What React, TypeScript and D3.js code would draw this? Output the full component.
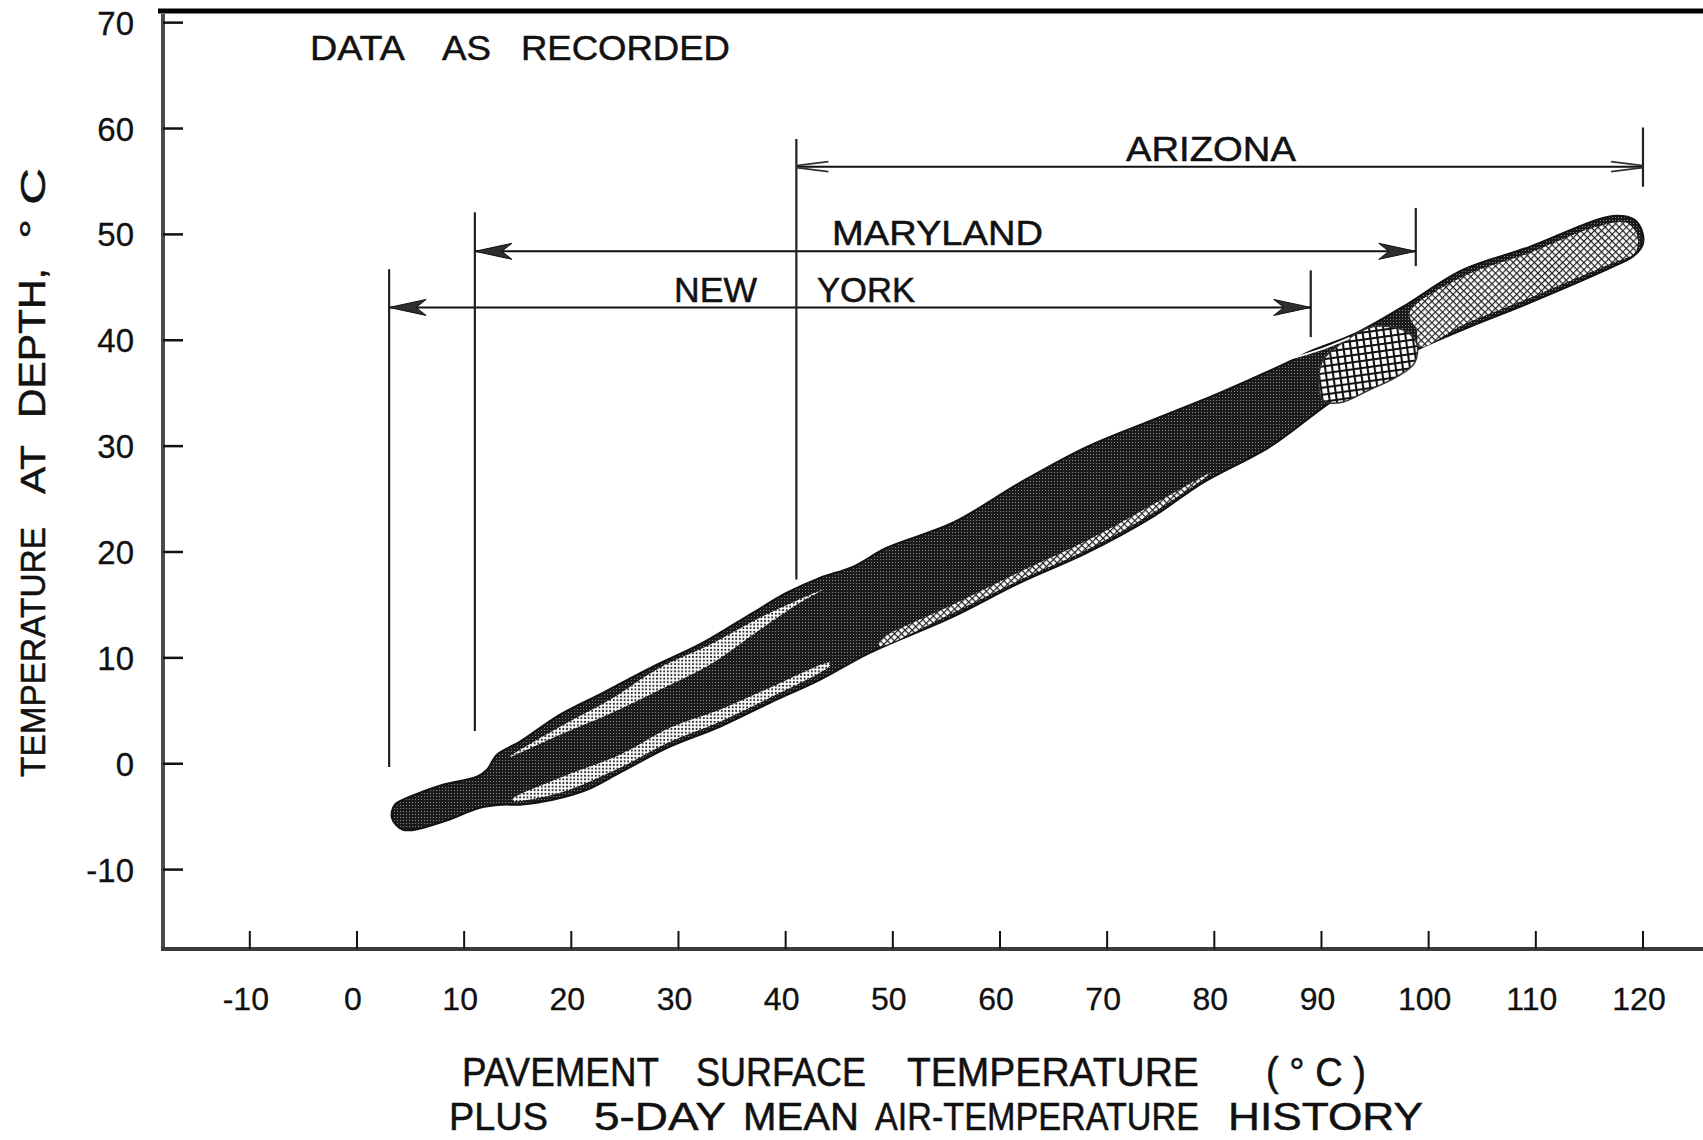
import React from 'react';
import * as d3 from 'd3';

type P = [number, number];

// ---------- axis data ----------
const xTicks = [-10, 0, 10, 20, 30, 40, 50, 60, 70, 80, 90, 100, 110, 120];
const yTicks = [-10, 0, 10, 20, 30, 40, 50, 60, 70];
const xTickLabels = xTicks.map(String);
const yTickLabels = yTicks.map(String);
const xDomain: P = [-18.1, 125.6];
const yDomain: P = [-17.5, 71.1];

// ---------- recorded data envelope (surface temp, depth temp) ----------
const envelopeUpper: P[] = [
  [3.26, -5.1], [3.54, -3.87], [4.94, -3.12], [8.02, -1.98], [11.19, -1.23], [12.13, -0.57],
  [13.06, 0.85], [15.21, 2.08], [18.94, 4.63], [22.95, 6.7], [27.61, 9.16], [32.28, 11.43],
  [36.94, 14.26], [40.11, 16.15], [43.19, 17.56], [46.27, 18.6], [49.44, 20.4], [55.6, 22.76],
  [61.85, 26.53], [68.1, 29.93], [74.25, 32.48], [80.5, 35.03], [86.75, 37.87], [88.62, 38.81],
  [93.28, 40.7], [97.57, 43.15], [103.17, 46.65], [109.42, 48.82], [115.67, 51.37], [117.54, 51.75],
  [119.22, 51.37], [119.96, 50.14]
];
const envelopeLower: P[] = [
  [119.96, 49.01], [119.03, 47.88], [117.16, 46.93], [109.42, 43.53], [103.17, 40.98], [97.01, 38.15],
  [90.76, 34.09], [85.17, 29.93], [78.92, 26.53], [74.25, 23.32], [68.1, 19.92], [61.85, 17.09],
  [55.6, 13.88], [47.85, 10.48], [43.19, 7.93], [38.53, 5.76], [33.86, 3.49], [29.2, 1.61],
  [24.53, -0.85], [21.46, -2.46], [18.28, -3.4], [15.21, -3.87], [13.62, -3.87], [11.47, -4.15],
  [8.02, -5.48], [4.29, -6.23]
];
// light stippled sub-bands
const upperStripeTop: P[] = [[14.27, 0.66], [18.94, 3.49], [23.6, 6.04], [28.26, 9.07], [32.93, 11.24], [37.59, 13.79], [43.47, 16.43]];
const upperStripeBottom: P[] = [[41.32, 15.2], [37.59, 12.65], [32.93, 9.35], [28.26, 6.99], [23.6, 4.72], [18.94, 2.74]];
const lowerStripeTop: P[] = [[14.55, -3.31], [18.94, -1.32], [24.53, 0.85], [29.2, 3.4], [33.86, 5.1], [38.53, 7.18], [44.12, 9.54]];
const lowerStripeBottom: P[] = [[44.12, 9.25], [38.53, 6.23], [33.86, 3.97], [29.2, 2.08], [24.53, -0.38], [18.94, -2.74], [14.55, -3.49]];
// cross-hatched sub-bands
const midHatchTop: P[] = [[48.79, 11.61], [55.6, 15.01], [61.85, 18.13], [68.1, 21.06], [74.25, 24.46], [79.85, 27.57]];
const midHatchBottom: P[] = [[74.25, 23.7], [68.1, 20.21], [61.85, 17.37], [55.6, 14.26], [48.79, 11.14]];
const denseHatch: P[] = [
  [90.02, 37.87], [92.35, 40.04], [94.78, 41.27], [97.57, 40.98], [98.88, 39.75], [98.69, 37.87],
  [97.01, 36.54], [94.5, 35.32], [91.7, 34.09], [90.11, 34.37]
];
const arizonaHatch: P[] = [
  [98.23, 42.59], [103.17, 45.99], [109.42, 48.25], [115.67, 50.71], [118.47, 51.09], [119.5, 49.76],
  [119.22, 48.25], [117.16, 47.31], [109.42, 44.0], [103.17, 41.45], [99.16, 39.38], [98.88, 40.98]
];
const highlightStreak: P[] = [[87.03, 38.24], [89.83, 39.09], [92.63, 40.23]];

// ---------- state ranges ----------
const states = ['NEW YORK', 'MARYLAND', 'ARIZONA'];
const rangeFrom = [3, 11, 41];
const rangeTo = [89, 98.8, 120];
const rangeLevel = [43.1, 48.4, 56.4];
const leftBarTop = [46.7, 52.1, 59.0];
const leftBarBottom = [-0.3, 3.1, 17.4];
const rightBarTop = [46.6, 52.5, 60.1];
const rightBarBottom = [40.3, 47.0, 54.5];

const FONT = '"Liberation Sans", Arial, Helvetica, sans-serif';

let measureCtx: CanvasRenderingContext2D | null = null;
function measure(t: string, size: number): number {
  if (!measureCtx && typeof document !== 'undefined') {
    measureCtx = document.createElement('canvas').getContext('2d');
  }
  if (!measureCtx) return t.length * size * 0.62;
  measureCtx.font = `${size}px "Liberation Sans", Arial, sans-serif`;
  return measureCtx.measureText(t).width || t.length * size * 0.62;
}

const textProps = { fontFamily: FONT, fill: '#111', stroke: '#111', strokeWidth: 0.5 };

function Word({ t, x0, x1, base, size, rotate = false }: { t: string; x0: number; x1: number; base: number; size: number; rotate?: boolean }) {
  const len = Math.abs(x1 - x0);
  const s = len / measure(t, size);
  const tf = rotate
    ? `translate(${base},${x0}) rotate(-90) scale(${s.toFixed(4)},1)`
    : `translate(${x0},${base}) scale(${s.toFixed(4)},1)`;
  return (
    <text transform={tf} x={0} y={0} fontSize={size} {...textProps}>{t}</text>
  );
}

export default function App() {
  const W = 1703, H = 1140;
  const x = d3.scaleLinear().domain(xDomain).range([163, 1703]);
  const y = d3.scaleLinear().domain(yDomain).range([949, 11]);

  const closed = d3.line<P>().x(d => x(d[0])).y(d => y(d[1])).curve(d3.curveCatmullRomClosed.alpha(0.5));
  const open = d3.line<P>().x(d => x(d[0])).y(d => y(d[1])).curve(d3.curveCatmullRom.alpha(0.5));
  const shape = (a: P[], b: P[] = []) => closed(a.concat(b)) || '';

  const dart = (tx: number, ty: number, dir: number, L = 37, h = 8, n = 10) => {
    const b = tx - dir * L;
    const nb = tx - dir * (L - n);
    return `M${tx},${ty} L${b},${ty - h} L${nb},${ty} L${b},${ty + h} Z`;
  };
  const chevron = (tx: number, ty: number, dir: number, L = 32, h = 5) => {
    const b = tx - dir * L;
    return `M${b},${ty - h} L${tx},${ty - 1} M${b},${ty + h} L${tx},${ty + 1}`;
  };

  const stateWords: [string, number, number, number][] = [
    ['NEW', 674, 757, 302], ['YORK', 817, 915, 302], ['MARYLAND', 832, 1043, 245], ['ARIZONA', 1126, 1296, 161]
  ];
  const title1: [string, number, number][] = [
    ['PAVEMENT', 462, 659], ['SURFACE', 696, 866], ['TEMPERATURE', 907, 1199], ['( ° C )', 1266, 1366]
  ];
  const title2: [string, number, number][] = [
    ['PLUS', 449, 548], ['5-DAY', 594, 726], ['MEAN', 743, 859], ['AIR-TEMPERATURE', 875, 1199], ['HISTORY', 1228, 1423]
  ];
  const note: [string, number, number][] = [['DATA', 310, 405], ['AS', 442, 491], ['RECORDED', 521, 730]];
  const yTitle: [string, number, number][] = [
    ['TEMPERATURE', 777, 527], ['AT', 494, 445], ['DEPTH,', 418, 268], ['° C', 239, 168]
  ];

  return (
    <svg width={W} height={H} viewBox={`0 0 ${W} ${H}`} style={{ position: 'absolute', left: 0, top: 0, background: '#fff' }}>
      <defs>
        <pattern id="darkStip" width="3" height="3" patternUnits="userSpaceOnUse">
          <rect width="3" height="3" fill="#1b1b1b" />
          <circle cx="1.5" cy="1.5" r="0.55" fill="#9a9a9a" />
        </pattern>
        <pattern id="lightStip" width="3.6" height="3.6" patternUnits="userSpaceOnUse">
          <rect width="3.6" height="3.6" fill="#fff" />
          <circle cx="1.8" cy="1.8" r="1.05" fill="#222" />
        </pattern>
        <pattern id="xHatch" width="5" height="5" patternUnits="userSpaceOnUse" patternTransform="rotate(45)">
          <rect width="5" height="5" fill="#fff" />
          <path d="M0,0.6H5M0.6,0V5" stroke="#222" strokeWidth="1.2" />
        </pattern>
        <pattern id="sqHatch" width="7" height="7" patternUnits="userSpaceOnUse" patternTransform="rotate(-8)">
          <rect width="7" height="7" fill="#fff" />
          <path d="M0,1H7M1,0V7" stroke="#111" strokeWidth="2.2" />
        </pattern>
      </defs>
      <rect width={W} height={H} fill="#fff" />

      {/* frame */}
      <line x1={158} x2={W} y1={11} y2={11} stroke="#000" strokeWidth={5} />
      <line x1={x(xDomain[0])} x2={x(xDomain[0])} y1={14} y2={951} stroke="#4a4a4a" strokeWidth={4} />
      <line x1={x(xDomain[0]) - 2} x2={W} y1={y(yDomain[0])} y2={y(yDomain[0])} stroke="#3a3a3a" strokeWidth={4} />

      {/* ticks */}
      {yTicks.map((v, i) => (
        <g key={'yt' + v}>
          <line x1={x(xDomain[0])} x2={x(xDomain[0]) + 20} y1={y(v)} y2={y(v)} stroke="#111" strokeWidth={2.5} />
          <text x={134} y={y(v) + 12} textAnchor="end" fontSize={33} {...textProps} strokeWidth={0.3}>{yTickLabels[i]}</text>
        </g>
      ))}
      {xTicks.map((v, i) => (
        <g key={'xt' + v}>
          <line x1={x(v)} x2={x(v)} y1={y(yDomain[0])} y2={y(yDomain[0]) - 18} stroke="#111" strokeWidth={2} />
          <text x={x(v) - 4} y={1010} textAnchor="middle" fontSize={32} {...textProps} strokeWidth={0.3}>{xTickLabels[i]}</text>
        </g>
      ))}

      {/* recorded data envelope */}
      <path d={shape(envelopeUpper, envelopeLower)} fill="url(#darkStip)" stroke="#111" strokeWidth={2} />
      <path d={shape(upperStripeTop, upperStripeBottom)} fill="url(#lightStip)" />
      <path d={shape(lowerStripeTop, lowerStripeBottom)} fill="url(#lightStip)" />
      <path d={shape(midHatchTop, midHatchBottom)} fill="url(#xHatch)" />
      <path d={shape(denseHatch)} fill="url(#sqHatch)" stroke="#333" strokeWidth={1.5} />
      <path d={shape(arizonaHatch)} fill="url(#xHatch)" />
      <path d={open(highlightStreak) || ''} fill="none" stroke="#fff" strokeWidth={2} />

      {/* state ranges */}
      {states.map((s, i) => {
        const ly = y(rangeLevel[i]);
        const x0 = x(rangeFrom[i]);
        const x1 = x(rangeTo[i]);
        const faint = s === 'ARIZONA';
        return (
          <g key={s}>
            <line x1={x0} x2={x0} y1={y(leftBarTop[i])} y2={y(leftBarBottom[i])} stroke="#222" strokeWidth={2.2} />
            <line x1={x1} x2={x1} y1={y(rightBarTop[i])} y2={y(rightBarBottom[i])} stroke="#222" strokeWidth={2.2} />
            <line x1={x0} x2={x1} y1={ly} y2={ly} stroke="#111" strokeWidth={2} />
            {faint ? (
              <g fill="none" stroke="#333" strokeWidth={2}>
                <path d={chevron(x0, ly, -1)} />
                <path d={chevron(x1, ly, 1)} />
              </g>
            ) : (
              <g fill="#2e2e2e" stroke="#111" strokeWidth={1}>
                <path d={dart(x0, ly, -1)} />
                <path d={dart(x1, ly, 1)} />
              </g>
            )}
          </g>
        );
      })}

      {stateWords.map(([t, a, b, base]) => (
        <Word key={t} t={t} x0={a} x1={b} base={base} size={35} />
      ))}
      {note.map(([t, a, b]) => (
        <Word key={t} t={t} x0={a} x1={b} base={60} size={35} />
      ))}
      {title1.map(([t, a, b]) => (
        <Word key={t} t={t} x0={a} x1={b} base={1086} size={40} />
      ))}
      {title2.map(([t, a, b]) => (
        <Word key={t} t={t} x0={a} x1={b} base={1130} size={39} />
      ))}
      {yTitle.map(([t, a, b]) => (
        <Word key={t} t={t} x0={a} x1={b} base={45} size={36} rotate />
      ))}
    </svg>
  );
}
